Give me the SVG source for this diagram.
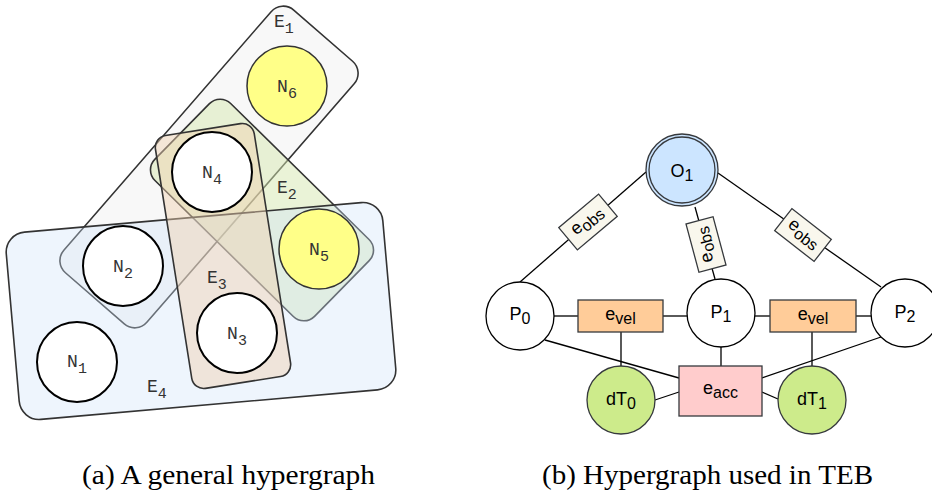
<svg xmlns="http://www.w3.org/2000/svg" width="932" height="492" viewBox="0 0 932 492">
<style>
.edge{stroke:#333;stroke-width:1.6}
.mono{font-family:"Liberation Mono","DejaVu Sans Mono",monospace;font-size:18px;fill:#333}
.sub{font-size:15px}
.node{fill:#fff;stroke:#000;stroke-width:2}
.ynode{fill:#ffff88;stroke:#333;stroke-width:1.5}
.sans{font-family:"Liberation Sans",Arial,sans-serif;font-size:18px;fill:#000}
.s2{font-size:16px}
.ln{stroke:#000;stroke-width:1.3;fill:none}
.box{stroke:#36393d;stroke-width:1.3}
.cap{font-family:"Liberation Serif","Times New Roman",serif;font-size:27px;fill:#000}
</style>
<g id="hyperedges-a">
  <g id="E1"><rect class="edge" x="-174" y="-55" width="348" height="110" rx="16" fill="#efefef" fill-opacity="0.45" transform="translate(209,167) rotate(-49)"/></g>
  <g id="E2"><rect class="edge" x="-112" y="-54" width="224" height="108" rx="15" fill="#d5e8b0" fill-opacity="0.5" transform="translate(262,210) rotate(44.5)"/></g>
  <g id="E4"><rect class="edge" x="-189" y="-94" width="378" height="188" rx="20" fill="#cfe2fa" fill-opacity="0.35" transform="translate(201,311) rotate(-5)"/></g>
  <g id="E3"><rect class="edge" x="-50" y="-128" width="100" height="256" rx="12" fill="#f0d0b0" fill-opacity="0.45" transform="translate(223,256) rotate(-9)"/></g>
</g>
<g id="N6"><circle class="ynode" cx="287" cy="86" r="40"/><text class="mono" x="287" y="92" text-anchor="middle">N<tspan class="sub" dy="6">6</tspan></text></g>
<g id="N4"><circle class="node" cx="212" cy="172" r="40"/><text class="mono" x="212" y="178" text-anchor="middle">N<tspan class="sub" dy="6">4</tspan></text></g>
<g id="N5"><circle class="ynode" cx="319" cy="249" r="40"/><text class="mono" x="319" y="255" text-anchor="middle">N<tspan class="sub" dy="6">5</tspan></text></g>
<g id="N2"><circle class="node" cx="123" cy="266" r="40"/><text class="mono" x="123" y="272" text-anchor="middle">N<tspan class="sub" dy="6">2</tspan></text></g>
<g id="N3"><circle class="node" cx="237" cy="333" r="40"/><text class="mono" x="237" y="339" text-anchor="middle">N<tspan class="sub" dy="6">3</tspan></text></g>
<g id="N1"><circle class="node" cx="77" cy="362" r="40"/><text class="mono" x="77" y="367" text-anchor="middle">N<tspan class="sub" dy="6">1</tspan></text></g>
<g id="edge-labels">
  <text class="mono" x="274" y="27">E<tspan class="sub" dy="6">1</tspan></text>
  <text class="mono" x="277" y="193">E<tspan class="sub" dy="6">2</tspan></text>
  <text class="mono" x="207" y="283">E<tspan class="sub" dy="6">3</tspan></text>
  <text class="mono" x="147" y="392">E<tspan class="sub" dy="6">4</tspan></text>
</g>

<g id="connectors">
  <line class="ln" x1="646" y1="172" x2="520" y2="282"/>
  <line class="ln" x1="695" y1="207" x2="715" y2="279"/>
  <line class="ln" x1="718" y1="173" x2="881" y2="287"/>
  <line class="ln" x1="554" y1="316" x2="578" y2="316"/>
  <line class="ln" x1="663" y1="316" x2="688" y2="316"/>
  <line class="ln" x1="755" y1="316" x2="770" y2="316"/>
  <line class="ln" x1="856" y1="316" x2="871" y2="316"/>
  <line class="ln" x1="621" y1="332" x2="621" y2="366"/>
  <line class="ln" x1="812" y1="332" x2="812" y2="366"/>
  <line class="ln" x1="721" y1="347" x2="721" y2="366"/>
  <line class="ln" x1="545" y1="340" x2="679" y2="378"/>
  <line class="ln" x1="881" y1="337" x2="762" y2="378"/>
  <line class="ln" x1="655" y1="400" x2="679" y2="392"/>
  <line class="ln" x1="778" y1="399" x2="762" y2="392"/>
</g>
<g id="O1"><circle cx="682" cy="170" r="36" fill="#cce5ff" stroke="#36393d" stroke-width="1.3"/><circle cx="682" cy="170" r="33" fill="none" stroke="#36393d" stroke-width="1.3"/><text class="sans" x="682" y="177" text-anchor="middle">O<tspan class="s2" dy="4">1</tspan></text></g>
<g id="P0"><circle cx="520" cy="316" r="34" fill="#fff" stroke="#000" stroke-width="1.3"/><text class="sans" x="520" y="320" text-anchor="middle">P<tspan class="s2" dy="4">0</tspan></text></g>
<g id="P1"><circle cx="721" cy="313" r="34" fill="#fff" stroke="#000" stroke-width="1.3"/><text class="sans" x="721" y="318" text-anchor="middle">P<tspan class="s2" dy="4">1</tspan></text></g>
<g id="P2"><circle cx="905" cy="313" r="34" fill="#fff" stroke="#000" stroke-width="1.3"/><text class="sans" x="905" y="318" text-anchor="middle">P<tspan class="s2" dy="4">2</tspan></text></g>
<g id="evel0"><rect class="box" x="578" y="300" width="85" height="32" fill="#ffcc99"/><text class="sans" x="620.5" y="320" text-anchor="middle">e<tspan class="s2" dy="4">vel</tspan></text></g>
<g id="evel1"><rect class="box" x="770" y="300" width="86" height="32" fill="#ffcc99"/><text class="sans" x="813" y="320" text-anchor="middle">e<tspan class="s2" dy="4">vel</tspan></text></g>
<g id="eacc"><rect class="box" x="679" y="366" width="83" height="50" fill="#ffcccc"/><text class="sans" x="720.5" y="394" text-anchor="middle">e<tspan class="s2" dy="4">acc</tspan></text></g>
<g id="dT0"><circle cx="621" cy="400" r="34" fill="#cdeb8b" stroke="#36393d" stroke-width="1.3"/><text class="sans" x="621" y="405" text-anchor="middle">dT<tspan class="s2" dy="4">0</tspan></text></g>
<g id="dT1"><circle cx="812" cy="400" r="34" fill="#cdeb8b" stroke="#36393d" stroke-width="1.3"/><text class="sans" x="812" y="405" text-anchor="middle">dT<tspan class="s2" dy="4">1</tspan></text></g>
<g id="eobs0" transform="translate(588,222) rotate(-40)"><rect class="box" x="-26" y="-14.5" width="52" height="29" fill="#f9f7ed"/><text class="sans" x="0" y="3" text-anchor="middle">e<tspan class="s2" dy="4">obs</tspan></text></g>
<g id="eobs1" transform="translate(706,244.5) rotate(-105)"><rect class="box" x="-25" y="-14" width="50" height="28" fill="#f9f7ed"/><text class="sans" x="0" y="3" text-anchor="middle">e<tspan class="s2" dy="4">obs</tspan></text></g>
<g id="eobs2" transform="translate(803,235) rotate(38)"><rect class="box" x="-25" y="-14" width="50" height="28" fill="#f9f7ed"/><text class="sans" x="0" y="3" text-anchor="middle">e<tspan class="s2" dy="4">obs</tspan></text></g>
<g id="captions">
  <text class="cap" x="82" y="484" textLength="293" lengthAdjust="spacingAndGlyphs">(a) A general hypergraph</text>
  <text class="cap" x="542" y="484" textLength="331" lengthAdjust="spacingAndGlyphs">(b) Hypergraph used in TEB</text>
</g>
</svg>
